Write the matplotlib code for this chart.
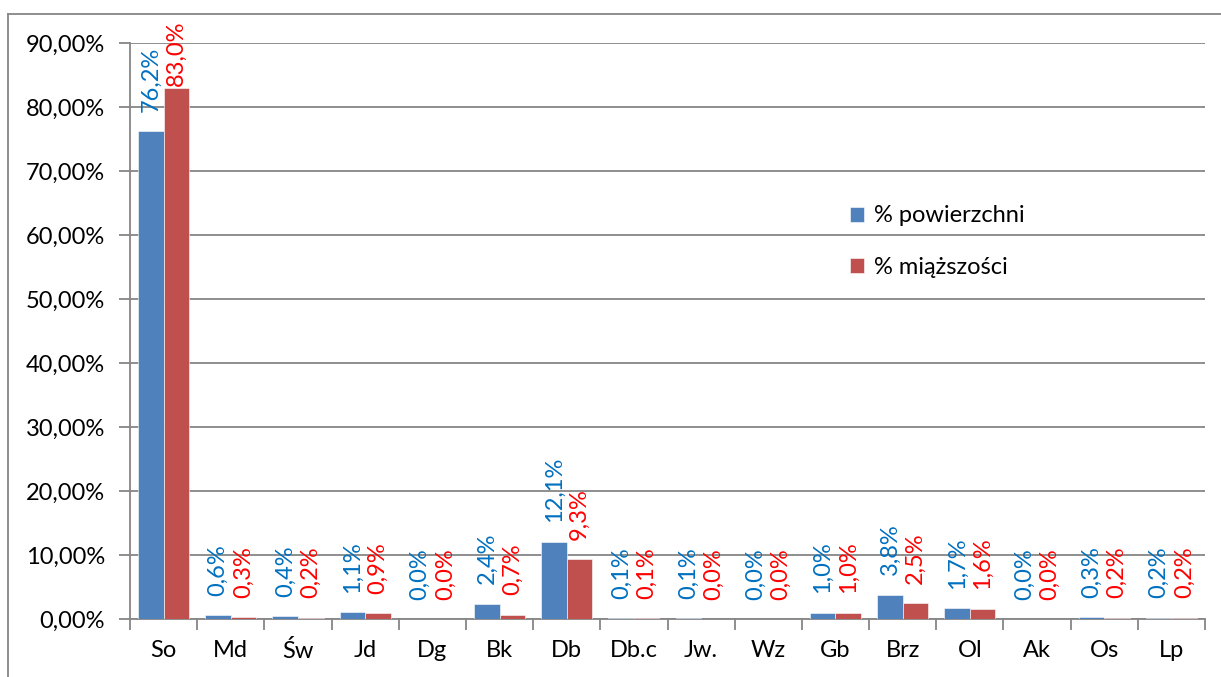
import matplotlib.pyplot as plt
import numpy as np
from matplotlib.lines import Line2D
from matplotlib.ticker import FuncFormatter

plt.rcParams['font.family'] = ['Lato', 'DejaVu Sans']

# gatunki i udzialy (%)
gatunki = ["So", "Md", "Św", "Jd", "Dg", "Bk", "Db", "Db.c", "Jw.", "Wz",
           "Gb", "Brz", "Ol", "Ak", "Os", "Lp"]
powierzchnia = [76.2, 0.6, 0.4, 1.1, 0.0, 2.4, 12.1, 0.1, 0.1, 0.0,
                1.0, 3.8, 1.7, 0.0, 0.3, 0.2]
miazszosc = [83.0, 0.3, 0.2, 0.9, 0.0, 0.7, 9.3, 0.1, 0.0, 0.0,
             1.0, 2.5, 1.6, 0.0, 0.2, 0.2]

fig = plt.figure(figsize=(12.21, 6.77), dpi=100)
ax = fig.add_axes([130/1221, 1 - 619/677, 1075/1221, 576/677])

x = np.arange(len(gatunki))
w = 0.38
grid_col = "#868686"

b1 = ax.bar(x - w/2, powierzchnia, w, color="#4F81BD", edgecolor="white",
            linewidth=0.4, label="% powierzchni", zorder=3)
b2 = ax.bar(x + w/2, miazszosc, w, color="#C0504D", edgecolor="white",
            linewidth=0.4, label="% miąższości", zorder=3)

# etykiety - przy samej gorze wykresu excel je dosuwa do slupka
def etykiety(vals, dx, kolor):
    for xi, v in zip(x, vals):
        off = 14 if v < 80 else 1
        ax.annotate(f"{v:.1f}%".replace(".", ","), (xi + dx, v), xytext=(0, off),
                    textcoords="offset points", rotation=90, ha="center",
                    va="bottom", color=kolor, fontsize=17)

etykiety(powierzchnia, -w/2, "#0070C0")
etykiety(miazszosc, w/2, "#FF0000")

ax.set_xlim(-0.5, len(gatunki) - 0.5)
ax.set_ylim(0, 90)
ax.set_yticks(np.arange(0, 91, 10))
ax.yaxis.set_major_formatter(FuncFormatter(lambda v, p: f"{v:.2f}%".replace(".", ",")))
ax.yaxis.grid(True, color=grid_col, linewidth=1.3, zorder=0)
ax.set_axisbelow(True)

ax.set_xticks(np.arange(len(gatunki) + 1) - 0.5)
ax.set_xticklabels([])
ax.set_xticks(x, minor=True)
ax.set_xticklabels(gatunki, minor=True, fontsize=17)
ax.tick_params(axis="x", which="minor", length=0, pad=15)
ax.tick_params(axis="x", which="major", length=8, color=grid_col, width=1.3)
ax.tick_params(axis="y", length=8, color=grid_col, width=1.3, labelsize=17, pad=10)

for s in ["top", "right"]:
    ax.spines[s].set_visible(False)
for s in ["left", "bottom"]:
    ax.spines[s].set_color(grid_col)
    ax.spines[s].set_linewidth(1.3)

ax.legend(loc="upper left", bbox_to_anchor=(0.65, 0.755), frameon=False,
          fontsize=17, handlelength=0.6, handleheight=0.6, handletextpad=0.4,
          labelspacing=1.3)

# ramka wykresu
fig.add_artist(Line2D([8/1221, 8/1221], [0, 1 - 14/677], color=grid_col, lw=1.3))
fig.add_artist(Line2D([8/1221, 1], [1 - 14/677, 1 - 14/677], color=grid_col, lw=1.3))

fig.savefig("out.png", dpi=100)
